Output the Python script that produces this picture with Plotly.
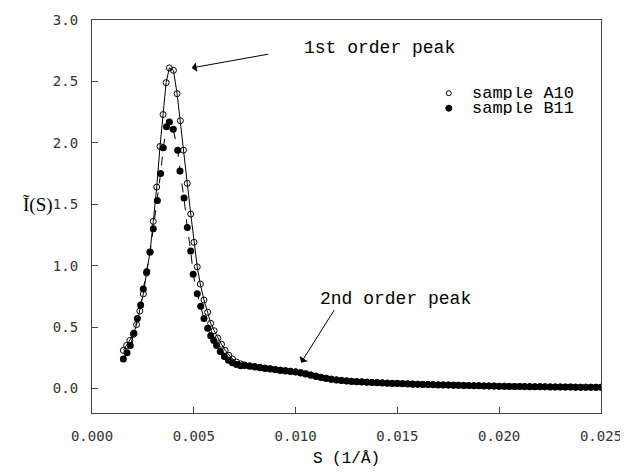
import plotly.graph_objects as go

# ---- data ----
s_a10_peak = [0.00154, 0.00170, 0.00186, 0.00203, 0.00219, 0.00235, 0.00252, 0.00268, 0.00285,
              0.00301, 0.00318, 0.00334, 0.00349, 0.00364, 0.00380, 0.00400, 0.00418, 0.00434,
              0.00449, 0.00468, 0.00485, 0.00501, 0.00517, 0.00532, 0.00550, 0.00568, 0.00583,
              0.00600, 0.00618, 0.00636, 0.00654, 0.00672, 0.00690, 0.00710, 0.00730]
i_a10_peak = [0.31, 0.35, 0.39, 0.44, 0.52, 0.63, 0.77, 0.94, 1.11, 1.36, 1.64, 1.97, 2.23,
              2.49, 2.61, 2.59, 2.40, 2.18, 1.94, 1.67, 1.42, 1.19, 0.99, 0.85, 0.72, 0.62,
              0.53, 0.47, 0.41, 0.36, 0.31, 0.27, 0.24, 0.215, 0.20]

s_b11_peak = [0.00154, 0.00172, 0.00188, 0.00206, 0.00223, 0.00239, 0.00252, 0.00269, 0.00285,
              0.00301, 0.00321, 0.00337, 0.00350, 0.00366, 0.00380, 0.00399, 0.00421, 0.00432,
              0.00452, 0.00468, 0.00485, 0.00497, 0.00517, 0.00534, 0.00550, 0.00568, 0.00583,
              0.00598, 0.00612, 0.00630, 0.00650, 0.00670, 0.00690, 0.00710, 0.00730]
i_b11_peak = [0.24, 0.29, 0.35, 0.45, 0.57, 0.68, 0.81, 0.95, 1.11, 1.30, 1.53, 1.75, 1.96,
              2.13, 2.17, 2.11, 1.94, 1.77, 1.55, 1.31, 1.12, 0.93, 0.77, 0.67, 0.57, 0.49,
              0.43, 0.39, 0.35, 0.30, 0.26, 0.23, 0.21, 0.195, 0.185]

s_tail = [0.00750, 0.00775, 0.00800, 0.00825, 0.00850, 0.00875, 0.00900, 0.00925, 0.00950, 0.00975,
          0.01000, 0.01025, 0.01050, 0.01075, 0.01100, 0.01125, 0.01150, 0.01175, 0.01200, 0.01225,
          0.01250, 0.01275, 0.01300, 0.01325, 0.01350, 0.01375, 0.01400, 0.01425, 0.01450, 0.01475,
          0.01500, 0.01525, 0.01550, 0.01575, 0.01600, 0.01625, 0.01650, 0.01675, 0.01700, 0.01725,
          0.01750, 0.01775, 0.01800, 0.01825, 0.01850, 0.01875, 0.01900, 0.01925, 0.01950, 0.01975,
          0.02000, 0.02025, 0.02050, 0.02075, 0.02100, 0.02125, 0.02150, 0.02175, 0.02200, 0.02225,
          0.02250, 0.02275, 0.02300, 0.02325, 0.02350, 0.02375, 0.02400, 0.02425, 0.02450, 0.02475,
          0.02500]
i_a10_tail = [0.192, 0.185, 0.179, 0.173, 0.167, 0.161, 0.155, 0.150, 0.146, 0.141,
              0.136, 0.129, 0.121, 0.111, 0.101, 0.092, 0.084, 0.076, 0.070, 0.066,
              0.062, 0.059, 0.056, 0.054, 0.052, 0.050, 0.048, 0.046, 0.044, 0.043,
              0.041, 0.040, 0.038, 0.037, 0.035, 0.034, 0.033, 0.031, 0.030, 0.029,
              0.028, 0.027, 0.026, 0.025, 0.024, 0.023, 0.022, 0.021, 0.020, 0.019,
              0.018, 0.018, 0.017, 0.016, 0.016, 0.015, 0.015, 0.014, 0.014, 0.013,
              0.013, 0.012, 0.012, 0.011, 0.011, 0.011, 0.010, 0.010, 0.010, 0.009,
              0.009]
i_b11_tail = [0.186, 0.180, 0.174, 0.169, 0.163, 0.158, 0.152, 0.147, 0.143, 0.138,
              0.133, 0.126, 0.118, 0.108, 0.098, 0.089, 0.081, 0.074, 0.068, 0.064,
              0.060, 0.057, 0.054, 0.052, 0.050, 0.048, 0.046, 0.044, 0.043, 0.041,
              0.040, 0.038, 0.037, 0.035, 0.034, 0.033, 0.032, 0.030, 0.029, 0.028,
              0.027, 0.026, 0.025, 0.024, 0.023, 0.022, 0.021, 0.020, 0.019, 0.019,
              0.018, 0.017, 0.016, 0.016, 0.015, 0.015, 0.014, 0.014, 0.013, 0.013,
              0.012, 0.012, 0.011, 0.011, 0.011, 0.010, 0.010, 0.010, 0.009, 0.009,
              0.009]

x_ticks = [0.000, 0.005, 0.010, 0.015, 0.020, 0.025]
x_tick_labels = ["0.000", "0.005", "0.010", "0.015", "0.020", "0.025"]
y_ticks = [0.0, 0.5, 1.0, 1.5, 2.0, 2.5, 3.0]
y_tick_labels = ["0.0", "0.5", "1.0", "1.5", "2.0", "2.5", "3.0"]

series_names = ["sample A10", "sample B11"]

s_a10 = s_a10_peak + s_tail
i_a10 = i_a10_peak + i_a10_tail
s_b11 = s_b11_peak + s_tail
i_b11 = i_b11_peak + i_b11_tail

MONO = "Liberation Mono"

fig = go.Figure()
fig.add_trace(go.Scatter(
    x=s_b11, y=i_b11, mode="lines+markers", name=series_names[1],
    line=dict(color="black", width=1, dash="dash"),
    marker=dict(symbol="circle", size=7, color="black"),
    showlegend=False))
fig.add_trace(go.Scatter(
    x=s_a10, y=i_a10, mode="lines+markers", name=series_names[0],
    line=dict(color="black", width=1),
    marker=dict(symbol="circle-open", size=6, color="black", line=dict(width=1)),
    showlegend=False))

annotations = [
    # arrows
    dict(x=0.0049, y=2.61, xref="x", yref="y", text="", showarrow=True,
         ax=78, ay=-14, axref="pixel", ayref="pixel",
         arrowhead=1, arrowsize=1.6, arrowwidth=1, arrowcolor="black"),
    dict(x=0.01027, y=0.21, xref="x", yref="y", text="", showarrow=True,
         ax=34, ay=-54, axref="pixel", ayref="pixel",
         arrowhead=1, arrowsize=1.6, arrowwidth=1, arrowcolor="black"),
    dict(x=0.0103, y=2.77, xref="x", yref="y", text="1st order peak", showarrow=False,
         xanchor="left", yanchor="middle", font=dict(family=MONO, size=18, color="black")),
    dict(x=0.0111, y=0.73, xref="x", yref="y", text="2nd order peak", showarrow=False,
         xanchor="left", yanchor="middle", font=dict(family=MONO, size=18, color="black")),
    # legend text
    dict(x=0.7424, y=0.8138, xref="paper", yref="paper", text=series_names[0], showarrow=False,
         xanchor="left", yanchor="middle", height=13, valign="middle",
         font=dict(family=MONO, size=17, color="black")),
    dict(x=0.7424, y=0.7755, xref="paper", yref="paper", text=series_names[1], showarrow=False,
         xanchor="left", yanchor="middle", height=13, valign="middle",
         font=dict(family=MONO, size=17, color="black")),
    # y title
    dict(x=-0.107, y=0.528, xref="paper", yref="paper", text="Ĩ(S)", showarrow=False,
         xanchor="center", yanchor="middle",
         font=dict(family="Liberation Serif", size=19, color="black")),
]

shapes = [
    dict(type="circle", xref="paper", yref="paper", xsizemode="pixel", ysizemode="pixel",
         xanchor=0.701, yanchor=0.8138, x0=-2.5, x1=2.5, y0=-2.5, y1=2.5,
         line=dict(color="black", width=1), fillcolor="white"),
    dict(type="circle", xref="paper", yref="paper", xsizemode="pixel", ysizemode="pixel",
         xanchor=0.701, yanchor=0.7755, x0=-3, x1=3, y0=-3, y1=3,
         line=dict(color="black", width=1), fillcolor="black"),
]

axis_common = dict(showgrid=False, zeroline=False, showline=True, linecolor="#444",
                   linewidth=1.2, mirror=True, ticks="inside", ticklen=6, tickcolor="#444",
                   automargin=False, ticklabeloverflow="allow",
                   tickfont=dict(family="DejaVu Sans Mono", size=14, color="#333"))

# the page body adds an 8px offset, so the figure is 8px smaller and shifted
fig.update_layout(
    width=620, height=464,
    margin=dict(l=84, r=27, t=12, b=59),
    paper_bgcolor="white", plot_bgcolor="white",
    showlegend=False,
    xaxis=dict(range=[0, 0.025], tickvals=x_ticks, ticktext=x_tick_labels,
               title=dict(text="S (1/Å)", font=dict(family=MONO, size=16, color="black"),
                          standoff=8),
               ticklabelstandoff=10, **axis_common),
    yaxis=dict(range=[-0.2, 3.0], tickvals=y_ticks, ticktext=y_tick_labels,
               ticklabelstandoff=10, **axis_common),
    annotations=annotations,
    shapes=shapes,
)

fig.write_html("out.html")
